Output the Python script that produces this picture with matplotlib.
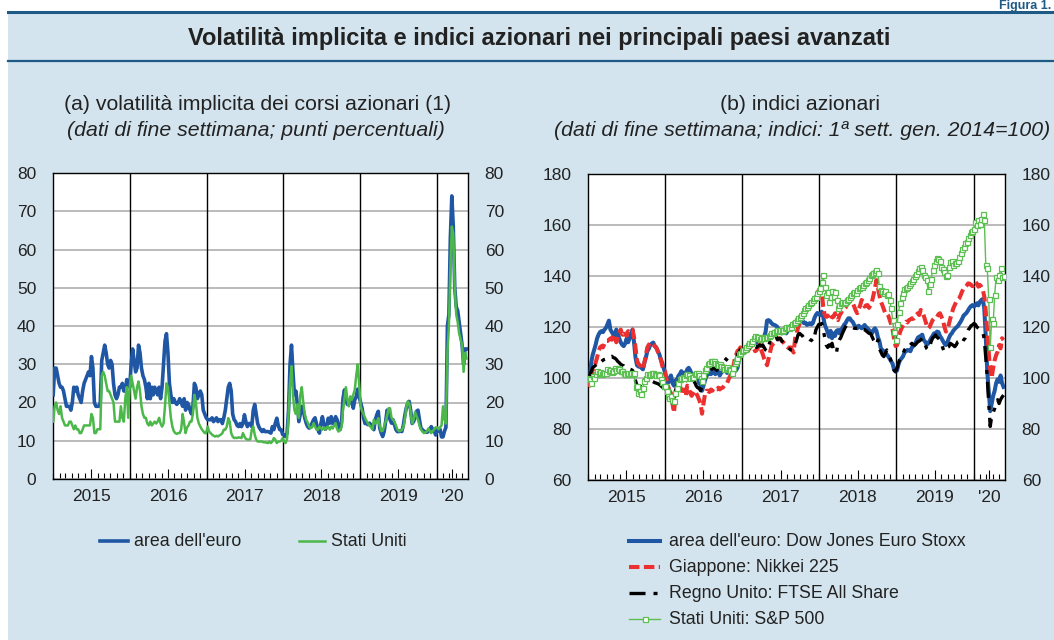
import numpy as np
import pandas as pd
import matplotlib
matplotlib.use("Agg")
import matplotlib.pyplot as plt
import matplotlib.dates as mdates
from matplotlib.lines import Line2D
from matplotlib.patches import Rectangle

plt.rcParams['font.family'] = ['Liberation Sans', 'DejaVu Sans']

# ---------------- data (weekly, end of week) ----------------
dates = pd.date_range('2015-01-02', '2020-05-22', freq='W-FRI')

vol_euro = [
    22, 29, 29, 27, 25, 24, 24, 23, 21, 19, 19, 19, 18, 20, 24, 23, 24, 22, 21, 20, 23, 25, 26, 27, 28, 27,
    32, 29, 20, 19, 19, 19, 20, 31, 33, 35, 33, 30, 29, 31, 30, 25, 22, 21, 22, 24, 24, 25, 23, 23, 26, 25,
    24, 30, 34, 31, 28, 29, 35, 33, 29, 27, 26, 24, 21, 25, 21, 24, 22, 24, 23, 22, 24, 21, 24, 30, 36, 38,
    33, 25, 22, 20, 21, 20, 19.5, 20, 21, 20, 19, 21, 18, 20, 19.5, 18, 17, 19, 25, 24, 21, 22, 23, 22, 18, 17, 16,
    15.5, 15.5, 15.5, 16, 15, 15.5, 16, 15, 15.5, 15.5, 14.5, 16, 18, 21, 24, 25, 23, 17, 15.5, 15, 14, 13.7,
    14.5, 13.7, 14.5, 16.8, 15, 13.7, 14.5, 14.5, 13.7, 18, 19.5, 17, 14.5, 13.5, 12.9, 12.4, 12.9, 12.4, 12.4,
    12.4, 12.2, 12, 13.7, 12.9, 14.6, 15.9, 14, 12.9, 12.9, 11.6,
    11.6, 11.1, 12, 18, 30, 35, 28, 22, 23, 19.5, 15, 17, 19, 18, 16, 14.6, 13.7, 13.3, 14, 14.6, 15.5, 16,
    14.5, 12.9, 12, 14.5, 16.3, 14.5, 13, 13.5, 15.9, 14.6, 16.3, 14.5, 15, 16.3, 15.5, 14, 12.9, 14.6, 21,
    23.3, 21, 19.5, 19.5, 21, 21, 18.5, 20.7, 21.5, 23.5, 21.5,
    20, 18.5, 16, 14.5, 14.6, 14.2, 14.6, 14.2, 13.7, 12.9, 15.5, 16.8, 17.7, 13.3, 12, 11.1, 12.4, 15, 18, 17,
    15.5, 14.6, 15.5, 14.2, 12.9, 12.4, 12.4, 12.6, 12.4, 14, 16.5, 18.5, 19.8, 20.3, 18, 14.5, 15, 16, 17.7,
    18, 15.5, 13.3, 12.9, 12.4, 12.4, 12.2, 12.4, 13, 13.7, 13, 12.6, 11.5,
    13, 12.5, 13, 11, 11, 12.5, 13.5, 40, 43, 63, 74, 66, 50, 45, 44, 41, 38, 35, 30, 34, 34,
]

vol_us = [
    15, 19, 20, 18, 17, 19, 16, 15, 14, 14, 14, 15, 15, 14, 13, 14, 13, 13, 12, 12, 13, 14, 14, 14, 14, 14,
    17, 16, 12, 12, 13, 13, 13, 27, 28, 27, 25, 23, 23, 22, 21, 20, 15, 15, 15, 15, 19, 16, 15, 21, 24, 16,
    24, 27, 25, 23, 21, 24, 25.5, 23, 19, 17, 16, 16, 14.5, 14, 15, 14, 14.5, 15, 14.5, 15, 16, 14.5, 13.7,
    14.5, 19, 25, 24, 20, 16, 13.7, 12.5, 12, 11.8, 12, 12, 13, 17, 14.6, 12, 13.5, 14, 15, 15, 17, 22, 20,
    16, 14.5, 13.7, 13, 12.5, 12, 12,
    13.7, 12.4, 12, 11.6, 11.3, 11.1, 11.3, 11.1, 11.4, 11.6, 12, 12.9, 12.9, 13.7, 15.9, 15, 12, 11.1, 10.7,
    10.8, 10.7, 10.9, 10.8, 10.7, 12, 11.1, 10.5, 10.3, 10.3, 10.4, 12.9, 13.7, 11.6, 10.3, 9.8, 9.8, 9.8, 9.8,
    9.6, 9.6, 9.5, 9.4, 9.8, 9.4, 9.8, 10.7, 10.3, 9.4, 9.8, 9.8, 10, 10.7,
    9.8, 9.4, 10.5, 17, 25, 29.5, 22, 18, 17, 19.5, 16, 22, 24, 20, 17, 15.5, 14.8, 13.7, 13.3, 13.5, 14.6,
    13.7, 12.9, 12.9, 13.7, 13.3, 12.9, 13.5, 12.9, 13.5, 13.7, 12.9, 13.7, 13.2, 14, 14.6, 13, 12.4, 12.9,
    13.5, 18, 21, 24, 20.7, 19, 21.6, 20.7, 22, 23.3, 27, 30, 25,
    19, 17.7, 17, 16, 15.2, 14.5, 14, 13.5, 13, 15.5, 14.5, 14.8, 15.9, 14, 12.5, 12.6, 13.8, 15, 16.5, 18.5,
    18.5, 16, 15.5, 15, 14, 13, 12.5, 12.6, 12.8, 13.5, 15.5, 18.5, 20.3, 19.8, 17.5, 14.5, 15.5, 17.5, 16.5,
    15.5, 14, 13, 12.4, 12, 12.2, 12.4, 13.2, 12.6, 12, 12.5, 13, 13.5,
    13.5, 13, 13.5, 14, 19, 15.5, 14.5, 33, 40, 55, 66, 64, 50, 43, 41, 38, 36.5, 35, 28, 33, 31.5,
]

idx_euro = [
    100, 98, 106, 109, 111, 113, 115.5, 117, 118, 118.4, 118, 119, 119.7, 121, 122.5, 119, 118, 117, 116.5,
    119, 117.5, 115.5, 114, 113, 112.5, 113.5, 115.5, 114, 115.5, 117.5, 119, 114, 108, 105, 104.5, 104.5,
    104, 103.4, 106, 108, 110.5, 111.5, 113, 113.5, 113.9, 112.5, 112, 110.6, 109.5, 107.5, 106, 104,
    102, 99, 98, 100, 101, 98, 97, 99, 99, 100.8, 101.5, 102.7, 102, 101, 102, 103.4, 104, 103, 101.5, 101,
    101, 100, 101, 98, 97.5, 95, 97, 99, 100.8, 101.5, 102.7, 101.5, 102, 102.7, 101.5, 102, 102.5, 101, 102,
    102.7, 103.4, 103, 102, 102.3, 102.7, 102, 101.5, 102.5, 103, 104, 107, 109, 110,
    111, 111.5, 111.5, 111.5, 112, 112.5, 113, 113.5, 113.6, 114, 114.5, 115.2, 115.6, 116, 116.2, 118, 122.5,
    122.7, 122.3, 121.5, 121, 120.8, 120.5, 120, 119, 118.2, 117.5, 118, 118.8, 117.5, 118.5, 119.5, 120.5,
    120.8, 120.5, 121, 121.4, 121.5, 122.5, 123.4, 122.5, 121.5, 121.7, 120.8, 121.2, 121.5, 121, 121.5,
    123.4, 124.7, 125.5, 125,
    124.7, 126, 124, 121, 119.5, 118, 116.2, 118.5, 115.6, 117.5, 116.5, 118.5, 118.8, 117.5, 119, 119.5,
    120.8, 121.4, 122.5, 123.4, 123.4, 122.5, 122, 120.8, 120.1, 119.5, 120.5, 120, 119.5, 120, 120.8, 120,
    119.5, 118.8, 118.2, 117.5, 118.8, 119.5, 118.5, 116, 114.5, 111.6, 111, 110.5, 110, 109.2, 108.5, 107.5,
    106.5, 105.5, 103.1, 102.5,
    103, 105.5, 107, 107.7, 108.5, 110, 110.5, 111, 110.8, 110.5, 112, 112.5, 113.2, 114.5, 115.8, 116.2,
    116.5, 117, 114.9, 114.2, 113, 113.5, 114.5, 115.6, 116.5, 117.5, 117.2, 118.2, 118, 116.5, 115.6, 114.5,
    113.5, 112.9, 114, 115.6, 116.9, 117.5, 118.5, 119.2, 119.8, 120.3, 121.2, 122.1, 123.2, 124.5, 125,
    125.6, 126.5, 127.5, 128.2, 128.6,
    128, 128.6, 129.3, 128.5, 129.9, 130.6, 131, 127, 116, 102.5, 94.6, 87, 90, 93, 95, 98, 99.5, 98.5, 101,
    98, 96.5,
]

idx_japan = [
    100, 97, 101, 103, 104, 106, 108, 110.6, 112, 112.5, 112, 113.5, 114.5, 114.5, 115, 115.5, 115, 117, 116,
    114, 115.8, 117.8, 119, 117, 117, 118.4, 116.5, 118.4, 118, 119, 119, 116, 112, 107, 105.4, 105, 104,
    103.4, 106, 109, 112, 113, 113.9, 113.5, 113.2, 112.5, 112, 110.6, 109, 107.5, 105, 103,
    102.7, 99.5, 97, 95, 94, 90, 86.4, 92, 95, 96.5, 97.5, 95, 95, 95.5, 93, 97, 96.5, 94, 93, 94, 95, 94, 93,
    91.5, 90, 86, 90, 93.5, 95, 95, 94.5, 95.5, 95, 96, 95.5, 95.5, 96.2, 95.5, 96, 96.2, 96.9, 97.5, 98,
    99.5, 100.8, 101, 104, 107, 109, 110.6, 111, 112, 111.5,
    111.5, 111.6, 111, 110.5, 111.5, 112.3, 112.8, 111.5, 110.5, 111, 112, 113, 111, 109.5, 107.7, 106.4,
    105, 107.5, 110, 112.5, 113.3, 113.8, 114.2, 114.9, 115.6, 115.2, 114.5, 114, 113.2, 112.5, 112, 111.8,
    112, 111, 110, 115.5, 117.5, 119.8, 121.2, 122.5, 123.5, 125, 125.6, 126.7, 128, 128.6, 129.3, 130, 130.6,
    131.5, 133, 134.5,
    135.2, 133.9, 128, 124.7, 124, 124.5, 123.5, 122.7, 124, 124, 125.4, 123.5, 122.7, 124.5, 125.4, 126.5,
    127, 127.5, 128.6, 129.3, 130, 130.6, 129.5, 128, 126.5, 125.4, 127, 128.5, 130.6, 130, 128, 128.5, 128.6,
    127.5, 128.6, 130, 132.5, 135.2, 138.4, 135.5, 132.5, 130, 128.6, 127, 125.4, 125.4, 124.5, 122.7, 121,
    118.8, 115, 112.5,
    112.9, 115.6, 118, 119.5, 120.5, 121.4, 122.1, 121.8, 122.7, 123, 123.4, 123.2, 124, 124.7, 125.4, 124.7,
    126.7, 126, 124.5, 122.7, 120.8, 119.5, 120, 121.4, 122.7, 123.4, 124, 124, 125, 125.4, 124, 122.7, 120.1,
    118.2, 119, 121, 123.4, 125.4, 127.3, 128.6, 129.9, 130.6, 131.2, 132.5, 134, 135, 135.5, 136.2, 137.1,
    137, 136.5, 136,
    136.5, 137.8, 137, 135.8, 136.5, 135.8, 134.5, 132, 126, 118, 110, 103, 100, 104, 107, 109, 110.3, 112.9,
    111.6, 115.6, 114.9,
]

idx_uk = [
    100, 101, 102.5, 104, 104.5, 105, 105.5, 106.5, 106, 106.5, 107, 107.3, 107.5, 108, 108.6, 108.3, 108.5,
    108, 107.8, 107.3, 106.5, 106, 105.4, 105, 104.8, 104, 103.8, 103.4, 103.5, 103.3, 103, 101.5, 99, 97, 96,
    97, 96, 97.5, 99, 100, 100.5, 99.5, 99, 98.8, 98.5, 98.2, 98, 97.8, 97.5, 97, 96.5, 96,
    96, 95, 93.5, 92.3, 93, 91.5, 91, 95, 96.9, 97.5, 97, 97, 98, 98.2, 98.8, 99.5, 98.5, 98, 97.5, 98, 98.5,
    97, 96.2, 96, 95, 96.5, 99, 100, 101, 101.5, 102, 103, 104, 104, 103.5, 103, 104, 104.7, 105.5, 106.7,
    108, 107.5, 107, 106.5, 105.5, 105.5, 106, 106, 107, 109.3, 110, 111.2, 111.5,
    111, 110.5, 111, 111.3, 111.6, 112, 113, 113.2, 112.3, 112, 112.5, 113, 112.5, 113, 112, 111, 110.5,
    112.5, 114.2, 115, 116, 117.5, 116.5, 115, 115.5, 115.6, 114.5, 114, 113, 112.3, 112, 111.5, 111, 111,
    112, 113, 115, 117, 117.5, 117, 116.5, 115.6, 116, 116, 115.5, 115, 114.9, 114.2, 116, 118.8, 120, 121,
    121, 121.4, 119, 116, 113, 112, 113, 112.5, 113.6, 111, 109.7, 110, 113.6, 115, 116, 117.5, 118.8, 120,
    120.8, 120.8, 120.5, 120.1, 119.8, 119.5, 119.5, 119.5, 119.8, 120.1, 119.5, 119, 119, 118.5, 118, 117.5,
    117.5, 116.2, 115, 114.2, 113, 114.9, 111.5, 110.3, 109, 108.4, 109.5, 111, 110, 108.4, 106.5, 104.4,
    103.1, 102.5,
    104, 106, 107.7, 108.5, 109.5, 111, 111.6, 111.2, 112.3, 113, 113.6, 113, 112.9, 113.5, 114.2, 114.5,
    114.9, 115.6, 114, 112.9, 111.6, 111, 112, 114.2, 115.6, 116.2, 116.9, 116, 115.5, 114.9, 113.6, 111.6,
    110.3, 111, 112, 112.3, 113.6, 113.2, 112.8, 112.3, 113, 114.2, 114.5, 114, 113.5, 114.9, 115.6, 117.5,
    118.8, 119.5, 120.5, 120.8,
    121.4, 121, 120, 119.5, 119, 118.5, 118.2, 115, 108, 100, 90, 81, 85, 86.5, 88, 90.5, 91.5, 90, 91.5,
    92.5, 93.3,
]

idx_us = [
    100, 99.5, 98, 100.8, 100, 101.4, 102.7, 102, 102.5, 101.5, 102, 101.8, 102, 103.4, 102.7, 103, 102.3,
    102.7, 104, 103, 104, 103.4, 102.7, 102.7, 102, 101.4, 101.4, 102, 101.4, 102, 101.4, 102, 96.5, 97, 94.2,
    95, 93.6, 96, 98.8, 100, 101.4, 101, 101.4, 101.8, 102, 101.5, 101, 101.4, 101, 99.5, 98.5, 97,
    97, 95, 93, 92, 93, 91.5, 91, 94, 96, 98, 99.5, 100, 100.5, 100, 101, 101.4, 101, 100, 100.5, 100.2,
    101.5, 102, 102, 101, 100, 99, 101, 103, 104, 105.5, 106, 106.5, 106.7, 106.5, 106, 105.5, 105, 105.5,
    104.7, 104.5, 103.4, 104, 104.5, 103.5, 103, 102, 104, 106, 106.5, 108, 109.3, 110, 110.6,
    111, 111.5, 112, 113, 113.6, 113.8, 114.5, 115.6, 116.5, 116.2, 116, 115.2, 115.8, 116.2, 115.6, 116.2,
    116, 116.5, 117, 117.5, 117.5, 118.2, 118.5, 118.8, 118.6, 118.8, 118.5, 118.8, 119.5, 120.1, 120, 119.5,
    120, 121, 121.4, 122.1, 122.7, 123.4, 124, 124.7, 125.4, 126.7, 127.3, 128, 128.6, 129.3, 130, 130.6,
    131.2, 131.9, 133.2, 134,
    135.2, 137.8, 140.4, 135.8, 132.5, 133.9, 130, 131.9, 134, 132, 133.9, 130.5, 127.3, 128.6, 129.3, 130,
    129.5, 130, 130.6, 131, 131.9, 132.5, 133.2, 133.9, 133.2, 134.5, 135.2, 135.5, 135.8, 136.5, 137.1,
    137.8, 138.4, 139.2, 140.2, 140.8, 141.2, 141.7, 142.4, 141, 136, 134.5, 134, 133.2, 134, 132.5, 133,
    130.6, 127.3, 122.7, 118, 115,
    121, 126, 129.5, 131.8, 133.5, 134.8, 135.2, 135.8, 136.5, 137.1, 138.2, 139, 140, 140.7, 142, 143.2,
    143.7, 142.5, 140.4, 139.7, 138.4, 134, 137, 139, 142.5, 144.5, 146, 146.9, 146.8, 146, 143.7, 142.8,
    141.5, 140, 140.5, 143.5, 145.5, 146, 144.3, 145, 145.2, 146, 147.5, 149, 150.5, 151.5, 152.8, 153.5,
    154.8, 156, 157.2, 157.8,
    158.5, 161, 160, 162, 160.5, 162.5, 164.5, 162, 144.3, 143, 131, 112, 123, 121.5, 132.5, 139.7, 138.4,
    140.4, 143, 139.7, 140,
]

year_labels = ['2015', '2016', '2017', '2018', '2019', "'20"]
left_yticks = [0, 10, 20, 30, 40, 50, 60, 70, 80]
right_yticks = [60, 80, 100, 120, 140, 160, 180]

# ---------------- style ----------------
W, H = 1054, 640
BG = '#d3e4ee'
DARK = '#1d5b86'
BLUE = '#1f57a4'
GREEN_L = '#4cb84a'
GREEN_R = '#5cbf52'
RED = '#ec2f2f'
TXT = '#222222'


def fx(px):
    return px / W


def fy(py):
    return 1 - py / H


fig = plt.figure(figsize=(W / 100, H / 100), dpi=100, facecolor=BG)
fig.patches.append(Rectangle((0, fy(11)), 1, 11 / H, transform=fig.transFigure,
                             facecolor='white', edgecolor='none', zorder=0))
fig.patches.append(Rectangle((0, 0), fx(8), 1, transform=fig.transFigure,
                             facecolor='white', edgecolor='none', zorder=0))
fig.add_artist(Line2D([fx(8), 1], [fy(12), fy(12)], transform=fig.transFigure, color=DARK, lw=2.2))
fig.add_artist(Line2D([fx(8), 1], [fy(61), fy(61)], transform=fig.transFigure, color=DARK, lw=1.6))
fig.text(fx(1051), fy(0.5), 'Figura 1.', ha='right', va='top', fontsize=9,
         fontweight='bold', color=DARK)
fig.text(fx(539), fy(38), 'Volatilità implicita e indici azionari nei principali paesi avanzati',
         ha='center', va='center', fontsize=17, fontweight='bold', color=TXT)

sub_fs = 15.3
fig.text(fx(258), fy(105), '(a) volatilità implicita dei corsi azionari (1)',
         ha='center', va='center', fontsize=sub_fs, color=TXT)
fig.text(fx(256), fy(131), '(dati di fine settimana; punti percentuali)',
         ha='center', va='center', fontsize=sub_fs, style='italic', color=TXT)
fig.text(fx(800), fy(105), '(b) indici azionari',
         ha='center', va='center', fontsize=sub_fs, color=TXT)
fig.text(fx(802), fy(131), '(dati di fine settimana; indici: 1ª sett. gen. 2014=100)',
         ha='center', va='center', fontsize=sub_fs, style='italic', color=TXT)

axL = fig.add_axes([fx(53), fy(479), fx(468) - fx(53), (479 - 173) / H])
axR = fig.add_axes([fx(588), fy(480), fx(1005) - fx(588), (480 - 174) / H])

xmin = pd.Timestamp('2015-01-01')
xmax = pd.Timestamp('2020-05-29')
major_pos = [pd.Timestamp(f'{y}-07-01') for y in range(2015, 2020)] + [pd.Timestamp('2020-03-16')]


def style_axis(ax, yticks):
    ax.set_facecolor('white')
    ax.set_xlim(xmin, xmax)
    ax.set_ylim(yticks[0], yticks[-1])
    ax.set_yticks(yticks)
    ax.yaxis.grid(True, color='#a8a8a8', lw=1.1)
    ax.set_axisbelow(True)
    ax.tick_params(axis='y', length=0, pad=12, labelleft=True, labelright=True,
                   labelsize=12.5, labelcolor=TXT)
    ax.xaxis.set_minor_locator(mdates.MonthLocator())
    ax.set_xticks(major_pos)
    ax.set_xticklabels(year_labels)
    ax.tick_params(axis='x', which='major', direction='in', length=7, width=0.8,
                   pad=7, labelsize=12.5, labelcolor=TXT)
    ax.tick_params(axis='x', which='minor', direction='in', length=4, width=0.8)
    for y in range(2016, 2021):
        ax.axvline(pd.Timestamp(f'{y}-01-01'), color='black', lw=1.0, zorder=1.5)
    for s in ax.spines.values():
        s.set_color('black')
        s.set_linewidth(1.0)


style_axis(axL, left_yticks)
style_axis(axR, right_yticks)

# left panel
axL.plot(dates, vol_euro, color=BLUE, lw=2.6, zorder=3, solid_joinstyle='round')
axL.plot(dates, vol_us, color=GREEN_L, lw=1.8, zorder=4, solid_joinstyle='round')

# right panel
red_ls = (0, (2.6, 1.1))
black_ls = (0, (4.8, 2.4, 1.2, 2.4))
axR.plot(dates, idx_euro, color=BLUE, lw=2.9, zorder=3, solid_joinstyle='round')
axR.plot(dates, idx_japan, color=RED, lw=2.9, ls=red_ls, zorder=3.2)
axR.plot(dates, idx_uk, color='black', lw=2.4, ls=black_ls, zorder=3.4)
axR.plot(dates, idx_us, color=GREEN_R, lw=1.0, marker='s', ms=3.6, mfc='white',
         mec=GREEN_R, mew=0.9, zorder=3.6)

# legends (drawn in figure coordinates)
def leg_line(x0, x1, y, **kw):
    fig.add_artist(Line2D([fx(x0), fx(x1)], [fy(y), fy(y)], transform=fig.transFigure, **kw))


leg_fs = 12.8
leg_line(100, 128, 541, color=BLUE, lw=2.6)
fig.text(fx(134), fy(541), "area dell'euro", ha='left', va='center', fontsize=leg_fs, color=TXT)
leg_line(299, 325, 541, color=GREEN_L, lw=1.8)
fig.text(fx(331), fy(541), 'Stati Uniti', ha='left', va='center', fontsize=leg_fs, color=TXT)

leg_line(629, 660, 541, color=BLUE, lw=2.9)
fig.text(fx(669), fy(541), "area dell'euro: Dow Jones Euro Stoxx", ha='left', va='center',
         fontsize=leg_fs, color=TXT)
leg_line(629, 660, 567, color=RED, lw=2.9, ls=red_ls)
fig.text(fx(669), fy(567), 'Giappone: Nikkei 225', ha='left', va='center', fontsize=leg_fs, color=TXT)
leg_line(629, 660, 593, color='black', lw=2.4, ls=black_ls)
fig.text(fx(669), fy(593), 'Regno Unito: FTSE All Share', ha='left', va='center',
         fontsize=leg_fs, color=TXT)
leg_line(629, 660, 619, color=GREEN_R, lw=1.0)
fig.add_artist(Line2D([fx(644.5)], [fy(619)], transform=fig.transFigure, marker='s', ms=3.6,
                      mfc='white', mec=GREEN_R, mew=0.9, lw=0))
fig.text(fx(669), fy(619), 'Stati Uniti: S&P 500', ha='left', va='center', fontsize=leg_fs, color=TXT)

fig.savefig('out.png', dpi=100, facecolor=BG)
